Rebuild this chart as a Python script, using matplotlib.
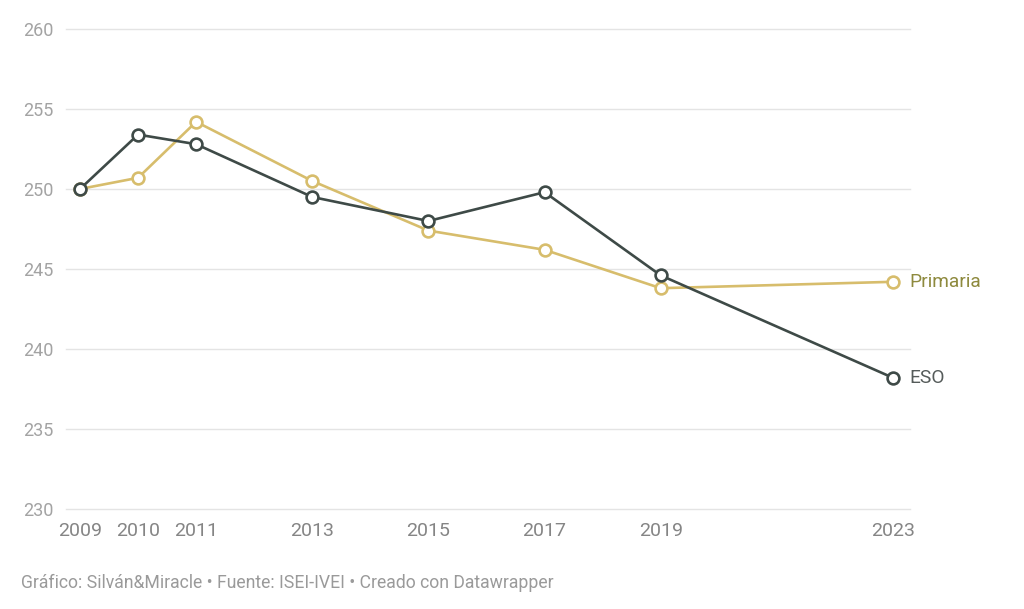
import matplotlib
matplotlib.use("Agg")
import matplotlib.pyplot as plt

plt.rcParams['font.family'] = ['Roboto', 'DejaVu Sans']

years = [2009, 2010, 2011, 2013, 2015, 2017, 2019, 2023]
eso = [250.0, 253.4, 252.8, 249.5, 248.0, 249.8, 244.6, 238.2]
primaria = [250.0, 250.7, 254.2, 250.5, 247.4, 246.2, 243.8, 244.2]
yticks = [230, 235, 240, 245, 250, 255, 260]
footer = "Gráfico: Silván&Miracle • Fuente: ISEI-IVEI • Creado con Datawrapper"

W, H = 1024, 609
fig = plt.figure(figsize=(W / 100, H / 100), dpi=100)
ax = fig.add_axes([66 / W, 100 / H, 844 / W, 480 / H])

c_eso = '#3e4a47'
c_pri = '#d7bd6c'

ax.plot(years, primaria, color=c_pri, lw=1.9, marker='o', ms=8.5,
        mfc='white', mec=c_pri, mew=1.9, zorder=3, clip_on=False)
ax.plot(years, eso, color=c_eso, lw=1.9, marker='o', ms=8.5,
        mfc='white', mec=c_eso, mew=1.9, zorder=4, clip_on=False)

ax.set_xlim(2009 - 14 / 58.07, 2023 + 17 / 58.07)
ax.set_ylim(230, 260)

for s in ax.spines.values():
    s.set_visible(False)

ax.set_yticks(yticks)
ax.grid(axis='y', color='#e4e4e4', lw=1)
ax.grid(axis='x', visible=False)
ax.set_axisbelow(True)
for gl in ax.get_ygridlines():
    gl.set_clip_on(False)
ax.tick_params(axis='y', length=0, pad=9, labelsize=13, labelcolor='#a3a3a3')
ax.set_xticks(years)
ax.set_xticklabels([str(y) for y in years])
ax.tick_params(axis='x', length=0, pad=9, labelsize=14, labelcolor='#858585')

ax.annotate('Primaria', xy=(years[-1], primaria[-1]), xytext=(12, 0),
            textcoords='offset points', va='center', ha='left',
            fontsize=13.8, color='#8e8a3e')
ax.annotate('ESO', xy=(years[-1], eso[-1]), xytext=(12, 0),
            textcoords='offset points', va='center', ha='left',
            fontsize=13.8, color='#555b5a')

fig.text(21 / W, 1 - 583 / H, footer, fontsize=12.7, color='#9a9a9a',
         va='center', ha='left')

fig.savefig('out.png', dpi=100, facecolor='white')
